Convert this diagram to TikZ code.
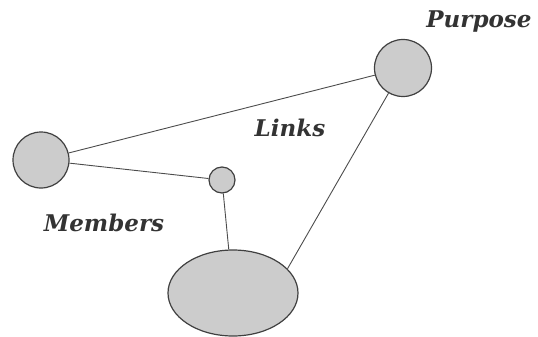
\documentclass[tikz,border=0pt]{standalone}
\usepackage{fontspec}
\setmainfont{DejaVu Serif}
\usetikzlibrary{shapes.geometric}
\tikzset{
  blob/.style={draw=black!75, line width=1.2pt, fill=black!20, inner sep=0pt},
  link/.style={draw=black!70, line width=0.9pt},
  lbl/.style={font=\fontsize{23}{26}\selectfont\bfseries\itshape, text=black!80, inner sep=0pt}
}
\begin{document}
\begin{tikzpicture}[x=1pt,y=-1pt]
\useasboundingbox (0,0) rectangle (538,337);
\node[blob, circle, minimum size=57pt] (purpose) at (403,68) {};
\node[blob, circle, minimum size=56pt] (left) at (41,160) {};
\node[blob, circle, minimum size=26pt] (small) at (222,180) {};
\node[blob, ellipse, minimum width=130pt, minimum height=86pt] (big) at (233,293) {};
\draw[link] (left) -- (purpose);
\draw[link] (left) -- (small);
\draw[link] (small) -- (big);
\draw[link] (purpose) -- (big.24);
\node[lbl] (tp) at (479,22) {Purpose};
\node[lbl] (tl) at (290,128) {Links};
\node[lbl] (tm) at (104,223) {Members};
\end{tikzpicture}
\end{document}
